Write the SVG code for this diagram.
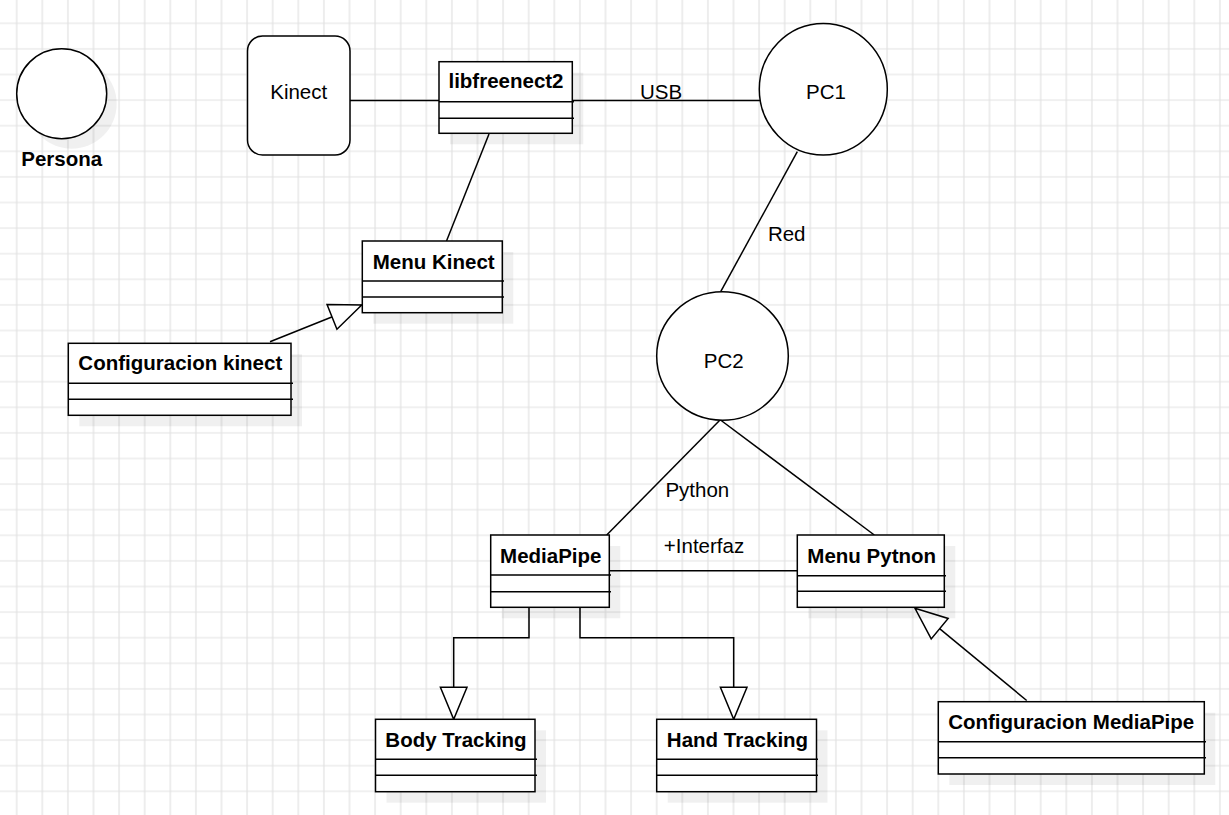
<svg xmlns="http://www.w3.org/2000/svg" width="1229" height="815" viewBox="0 0 1229 815">
<defs>
<pattern id="grid" patternUnits="userSpaceOnUse" x="3.9" y="10.5" width="25.6" height="25.6">
<path d="M12.8 0V25.6M0 12.8H25.6" fill="none" stroke="#e2e2e2" stroke-width="1.2"/>
</pattern>
<marker id="gen" markerUnits="userSpaceOnUse" viewBox="-1 -1 34 29" refX="32" refY="13.3" markerWidth="34" markerHeight="29" orient="auto" overflow="visible">
<path d="M0 0L32 13.3L0 26.6Z" fill="#fff" stroke="#000" stroke-width="1.5" stroke-linejoin="miter"/>
</marker>
</defs>
<style>
.shape{fill:#fff;stroke:#000;stroke-width:1.5}
.shadow{fill:#000;fill-opacity:0.06;stroke:none}
.div{stroke:#000;stroke-width:1.5;fill:none}
.conn{fill:none;stroke:#000;stroke-width:1.5}
.t{font-family:"Liberation Sans",Arial,sans-serif;font-size:20.5px;fill:#000;text-anchor:middle}
.b{font-weight:bold}
</style>
<rect x="0" y="0" width="1229" height="815" fill="#fff"/>
<rect x="0" y="0" width="1229" height="815" fill="url(#grid)"/>

<g id="connectors">
<path class="conn" d="M350 100.5H440"/>
<path class="conn" d="M568 100.5H760"/>
<text class="t" x="661" y="98.5">USB</text>
<path class="conn" d="M797.3 151.7L720.7 291.7"/>
<text class="t" x="786.7" y="240.7">Red</text>
<path class="conn" d="M489 134L446.5 241"/>
<path class="conn" d="M270 341.7L361.7 305" marker-end="url(#gen)"/>
<path class="conn" d="M722 418L606.7 535"/>
<path class="conn" d="M720.5 420L874.3 535"/>
<text class="t" x="697.3" y="496.7">Python</text>
<path class="conn" d="M610 570.7H797"/>
<text class="t" x="704" y="552.7">+Interfaz</text>
<path class="conn" d="M529 607.3V637.7H453.7V719.3" marker-end="url(#gen)"/>
<path class="conn" d="M580 607.3V637.7H733.7V719.3" marker-end="url(#gen)"/>
<path class="conn" d="M1026.7 700.5L915 608.3" marker-end="url(#gen)"/>
</g>

<g id="persona">
<circle class="shadow" cx="71.7" cy="103.7" r="45"/>
<circle class="shape" cx="61.7" cy="93.7" r="45"/>
<text class="t b" x="61.7" y="166.3">Persona</text>
</g>

<g id="kinect">
<rect class="shape" x="247.5" y="36" width="102.5" height="119" rx="15" ry="15"/>
<text class="t" x="298.7" y="99">Kinect</text>
</g>

<g id="libfreenect2">
<rect class="shadow" x="450" y="72.7" width="133.3" height="71.6"/>
<rect class="shape" x="439" y="61.7" width="133.3" height="71.6"/>
<path class="div" d="M439 101.7H574M439 118.3H574"/>
<text class="t b" x="506" y="88.3">libfreenect2</text>
</g>

<g id="pc1">
<ellipse class="shape" cx="823.3" cy="89.2" rx="64" ry="65.8"/>
<text class="t" x="826" y="98.5">PC1</text>
</g>

<g id="pc2">
<ellipse class="shape" cx="722.5" cy="356" rx="65.8" ry="64.2"/>
<text class="t" x="723.7" y="368.3">PC2</text>
</g>

<g id="menu-kinect">
<rect class="shadow" x="373.3" y="252" width="140" height="71.7"/>
<rect class="shape" x="362.3" y="241" width="140" height="71.7"/>
<path class="div" d="M362.3 281H504M362.3 297H504"/>
<text class="t b" x="433.7" y="269">Menu Kinect</text>
</g>

<g id="configuracion-kinect">
<rect class="shadow" x="79.3" y="354.3" width="222.7" height="72"/>
<rect class="shape" x="68.3" y="343.3" width="222.7" height="72"/>
<path class="div" d="M68.3 383.3H293M68.3 399.3H293"/>
<text class="t b" x="180.3" y="370">Configuracion kinect</text>
</g>

<g id="mediapipe">
<rect class="shadow" x="501.7" y="546" width="118.6" height="72.3"/>
<rect class="shape" x="490.7" y="535" width="118.6" height="72.3"/>
<path class="div" d="M490.7 575H611M490.7 591.7H611"/>
<text class="t b" x="550.8" y="562.7">MediaPipe</text>
</g>

<g id="menu-pytnon">
<rect class="shadow" x="808.3" y="546" width="147" height="72.3"/>
<rect class="shape" x="797.3" y="535" width="147" height="72.3"/>
<path class="div" d="M797.3 575.7H946M797.3 591.3H946"/>
<text class="t b" x="871.7" y="562.7">Menu Pytnon</text>
</g>

<g id="body-tracking">
<rect class="shadow" x="386.5" y="730.3" width="159.5" height="72.4"/>
<rect class="shape" x="375.5" y="719.3" width="159.5" height="72.4"/>
<path class="div" d="M375.5 759.3H537M375.5 775.3H537"/>
<text class="t b" x="456" y="747.3">Body Tracking</text>
</g>

<g id="hand-tracking">
<rect class="shadow" x="667.7" y="730.3" width="159.8" height="72.4"/>
<rect class="shape" x="656.7" y="719.3" width="159.8" height="72.4"/>
<path class="div" d="M656.7 759.3H818M656.7 775.3H818"/>
<text class="t b" x="737.5" y="747.3">Hand Tracking</text>
</g>

<g id="configuracion-mediapipe">
<rect class="shadow" x="949.3" y="712.7" width="266" height="72.3"/>
<rect class="shape" x="938.3" y="701.7" width="266" height="72.3"/>
<path class="div" d="M938.3 741.7H1206M938.3 757.7H1206"/>
<text class="t b" x="1071.2" y="729.3">Configuracion MediaPipe</text>
</g>
</svg>
